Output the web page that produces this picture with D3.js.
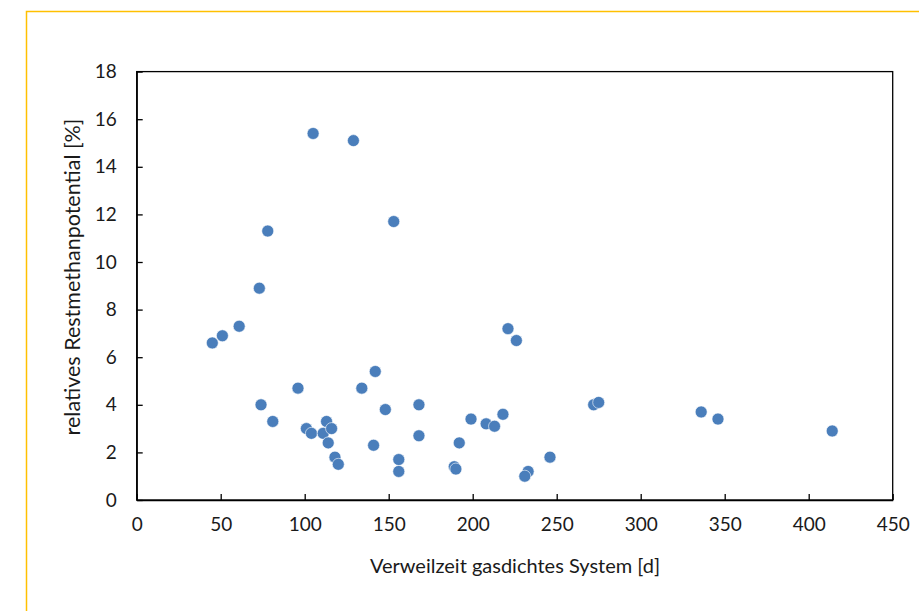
<!DOCTYPE html>
<html><head><meta charset="utf-8">
<script src="https://cdn.jsdelivr.net/npm/d3@7"></script>
<style>body{margin:0;background:#fff}svg{display:block}</style>
</head><body>
<svg id="c" width="919" height="611"></svg>
<script>
const xValues = [73,45,51,61,74,81,96,101,104,111,113,116,114,118,120,134,142,148,141,156,156,168,168,
  105,129,78,153,
  221,226,199,208,213,218,192,189,190,233,231,246,272,275,
  336,346,414];
const yValues = [8.9,6.6,6.9,7.3,4.0,3.3,4.7,3.0,2.8,2.8,3.3,3.0,2.4,1.8,1.5,4.7,5.4,3.8,2.3,1.7,1.2,4.0,2.7,
  15.4,15.1,11.3,11.7,
  7.2,6.7,3.4,3.2,3.1,3.6,2.4,1.4,1.3,1.2,1.0,1.8,4.0,4.1,
  3.7,3.4,2.9];
const xTicks = [0,50,100,150,200,250,300,350,400,450];
const yTicks = [0,2,4,6,8,10,12,14,16,18];
const xTitle = "Verweilzeit gasdichtes System [d]";
const yTitle = "relatives Restmethanpotential [%]";

const svg = d3.select("#c");
const font = "Lato, 'Open Sans', sans-serif";
svg.append("path").attr("d","M26.5,611 V11.5 H919").attr("fill","none").attr("stroke","#FFC000").attr("stroke-width",1.5);

const L=136.7, R=892.7, T=71.6, B=500;
const x = d3.scaleLinear().domain([0,450]).range([L,R]);
const y = d3.scaleLinear().domain([0,18]).range([B,T]);

svg.append("rect").attr("x",L).attr("y",T).attr("width",R-L).attr("height",B-T)
  .attr("fill","none").attr("stroke","#000").attr("stroke-width",1.3);

const xa = svg.append("g").attr("transform",`translate(0,${B})`)
  .call(d3.axisBottom(x).tickValues(xTicks).tickSizeInner(-6).tickSizeOuter(0).tickPadding(18));
const ya = svg.append("g").attr("transform",`translate(${L},0)`)
  .call(d3.axisLeft(y).tickValues(yTicks).tickSizeInner(-6).tickSizeOuter(0).tickPadding(20));
[xa,ya].forEach(a=>{
  a.select(".domain").attr("stroke","#000").attr("stroke-width",1.3);
  a.selectAll(".tick line").attr("stroke","#000").attr("stroke-width",1.3);
  a.selectAll("text").attr("font-family",font).attr("font-size",19).attr("fill","#1a1a1a");
});

svg.append("g").selectAll("circle").data(xValues.map((v,i)=>[v,yValues[i]])).join("circle")
  .attr("cx",d=>x(d[0])).attr("cy",d=>y(d[1])).attr("r",6)
  .attr("fill","#4A7EBB").attr("stroke","#fff").attr("stroke-width",0.6);

svg.append("text").attr("x",515).attr("y",573).attr("text-anchor","middle")
  .attr("font-family",font).attr("font-size",20).attr("fill","#1a1a1a").text(xTitle);
svg.append("text").attr("transform",`translate(80,277) rotate(-90)`).attr("text-anchor","middle")
  .attr("font-family",font).attr("font-size",21.5).attr("fill","#1a1a1a").text(yTitle);
</script>
</body></html>
